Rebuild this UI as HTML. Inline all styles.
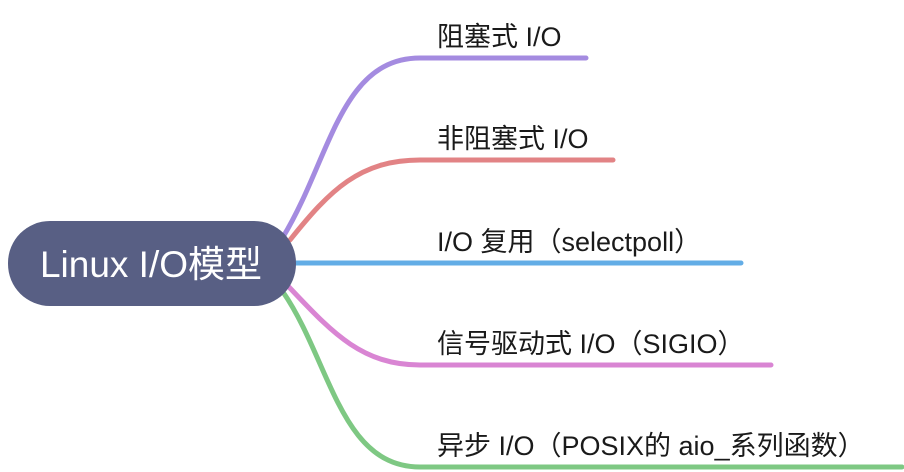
<!DOCTYPE html>
<html><head><meta charset="utf-8"><style>
html,body{margin:0;padding:0;background:#fff;width:904px;height:472px;overflow:hidden}
text{font-family:"Liberation Sans","Noto Sans CJK SC",sans-serif}
</style></head><body>
<svg width="904" height="472" viewBox="0 0 904 472" xmlns="http://www.w3.org/2000/svg">
<g fill="none" stroke-width="5" stroke-linecap="round">
<path d="M283 237 C330 160 340 58 420 58 L586 58" stroke="#a48be0"/>
<path d="M290 240 C330 190 360 160 420 160 L613 160" stroke="#e28385"/>
<path d="M292 263 L741 263" stroke="#63ade6"/>
<path d="M288 286 C330 330 360 365 420 365 L771 365" stroke="#d985d3"/>
<path d="M283 292 C330 360 340 467 420 467 L902 467" stroke="#7ec883"/>
</g>
<rect x="8" y="221" width="288" height="85" rx="42" fill="#585f84"/>
<text x="151" y="277" font-size="37" fill="#fff" text-anchor="middle">Linux I/O模型</text>
<g font-size="27" fill="#1a1a1a">
<text x="437" y="46">阻塞式 I/O</text>
<text x="437" y="148">非阻塞式 I/O</text>
<text x="437" y="251">I/O 复用（selectpoll）</text>
<text x="437" y="353">信号驱动式 I/O（SIGIO）</text>
<text x="437" y="455">异步 I/O（POSIX的 aio_系列函数）</text>
</g>
</svg>
</body></html>
